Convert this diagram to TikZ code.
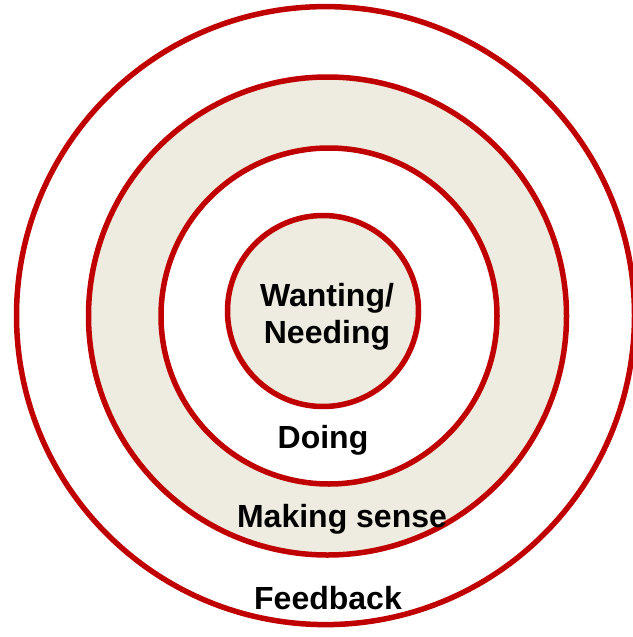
\documentclass[tikz,border=0pt]{standalone}
\usepackage{fontspec}
\setmainfont{Liberation Sans}
\definecolor{ringred}{HTML}{C00000}
\definecolor{ringfill}{HTML}{EEEBE0}
\begin{document}
\begin{tikzpicture}[x=1pt,y=-1pt,
  ring/.style={draw=ringred,line width=5.5pt},
  lbl/.style={font=\fontsize{32}{38}\selectfont\bfseries,anchor=base,inner sep=0pt}]
\useasboundingbox (0,0) rectangle (632,637);
\draw[ring] (325.5,315.6) circle[radius=309];
\draw[ring,fill=ringfill] (327.5,316) circle[radius=239];
\draw[ring,fill=white] (329,316) circle[radius=168];
\draw[ring,fill=ringfill] (323,311) circle[radius=95.5];
\node[lbl] (want) at (327,306) {Wanting/};
\node[lbl] (need) at (327,343) {Needing};
\node[lbl] (doing) at (323,448) {Doing};
\node[lbl] (make) at (342,527) {Making sense};
\node[lbl] (feed) at (328,609) {Feedback};
\end{tikzpicture}
\end{document}
